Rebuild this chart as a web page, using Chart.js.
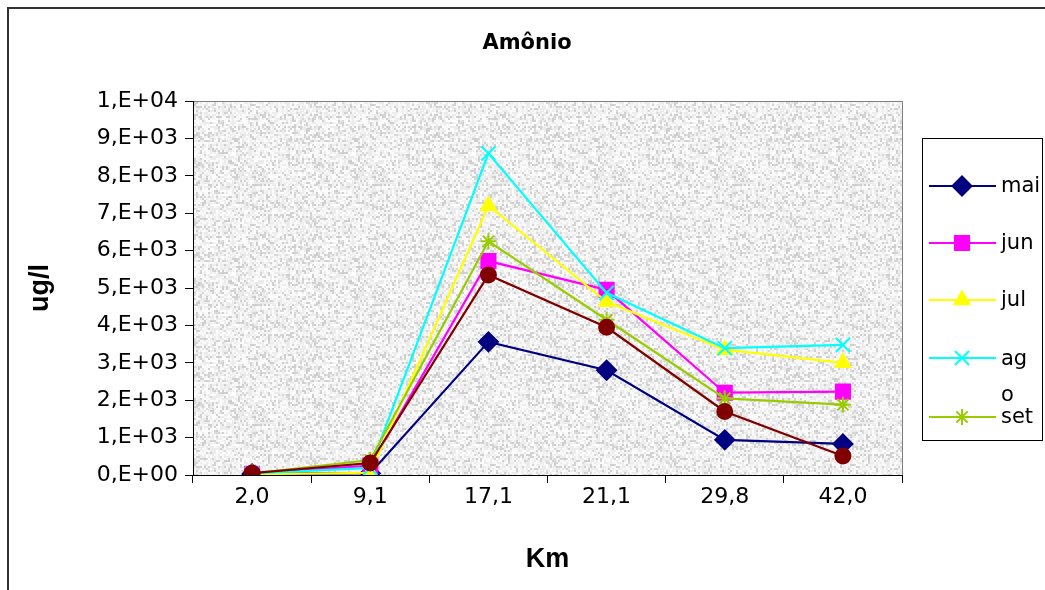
<!DOCTYPE html>
<html>
<head>
<meta charset="utf-8">
<script src="https://cdn.jsdelivr.net/npm/chart.js@4.4.1/dist/chart.umd.min.js"></script>
<style>
    html, body { margin: 0; padding: 0; background: #fff; }
    #wrap { width: 1045px; height: 590px; position: relative; }
</style>
</head>
<body>
<div id="wrap"><canvas id="chart" width="1045" height="590"></canvas></div>
<script>
// distance (km) along the river
const categories = ['2,0', '9,1', '17,1', '21,1', '29,8', '42,0'];
// amonio, ug/l, per month
const valuesMai = [30, 50, 3560, 2800, 940, 830];
const valuesJun = [30, 250, 5720, 4950, 2200, 2230];
const valuesJul = [20, 60, 7200, 4630, 3350, 3000];
const valuesAgo = [40, 190, 8600, 4870, 3390, 3480];
const valuesSet = [40, 400, 6250, 4150, 2050, 1880];
const valuesOut = [50, 320, 5350, 3950, 1700, 510];   // 6th series, cut off from the legend
const legendLabels = ['mai', 'jun', 'jul', ['ag', 'o'], 'set'];
const yTicks = [0, 1000, 2000, 3000, 4000, 5000, 6000, 7000, 8000, 9000, 10000];

const FONT = "'DejaVu Sans', sans-serif";
const BOLD_FONT = "'Liberation Sans', Arial, sans-serif";

function sciLabel(v){
    if(v === 0) return '0,E+00';
    let exp = Math.floor(Math.log10(v));
    let mant = Math.round(v / Math.pow(10, exp));
    return mant + ',E+' + String(exp).padStart(2, '0');
}

function makeSeries(label, data, color, style, radius, order){
    return {
        label: label,
        data: data,
        borderColor: color,
        backgroundColor: color,
        pointBackgroundColor: color,
        pointBorderColor: color,
        pointStyle: style,
        pointRadius: radius,
        pointBorderWidth: 2,
        borderWidth: 2.2,
        tension: 0,
        order: order
    };
}

// speckled grey fill of the plot area (excel texture)
function makeTexture(){
    let c = document.createElement('canvas');
    c.width = 120; c.height = 120;
    let g = c.getContext('2d');
    let seed = 12345;
    for(let y = 0; y < 120; y += 2){
        for(let x = 0; x < 120; x += 2){
            seed = (seed * 1103515245 + 12345) & 0x7fffffff;
            let r = (seed >> 8) % 100;
            let v = r < 22 ? 205 + (r % 15) : (r < 55 ? 236 : 244 + (r % 12));
            g.fillStyle = `rgb(${v},${v},${v})`;
            g.fillRect(x, y, 2, 2);
        }
    }
    return c;
}

const backdropPlugin = {
    id: 'backdrop',
    beforeDraw(chart){
        let ctx = chart.ctx, a = chart.chartArea;
        ctx.save();
        // outer frame
        ctx.strokeStyle = '#333';
        ctx.lineWidth = 2;
        ctx.strokeRect(8, 8, 1100, 700);
        ctx.fillStyle = ctx.createPattern(makeTexture(), 'repeat');
        ctx.fillRect(a.left, a.top, a.right - a.left, a.bottom - a.top);
        ctx.strokeStyle = '#808080';
        ctx.lineWidth = 1;
        ctx.beginPath();
        ctx.moveTo(a.left, a.top + 0.5);
        ctx.lineTo(a.right + 0.5, a.top + 0.5);
        ctx.lineTo(a.right + 0.5, a.bottom);
        ctx.stroke();
        // title, centred on the whole frame
        ctx.fillStyle = '#000';
        ctx.font = 'bold 21px ' + FONT;
        ctx.textAlign = 'center';
        ctx.textBaseline = 'middle';
        ctx.fillText('Amônio', 527, 44);
        ctx.restore();
    }
};

const legendPlugin = {
    id: 'boxLegend',
    afterDraw(chart){
        let ctx = chart.ctx;
        let rows = [186, 243, 300, 358, 417];
        ctx.save();
        ctx.strokeStyle = '#000';
        ctx.lineWidth = 1;
        ctx.strokeRect(922.5, 138.5, 120, 302);
        ctx.font = '21px ' + FONT;
        ctx.textBaseline = 'middle';
        ctx.textAlign = 'left';
        legendLabels.forEach((lbl, i) => {
            let ds = chart.data.datasets[i];
            let y = rows[i];
            ctx.strokeStyle = ds.borderColor;
            ctx.fillStyle = ds.borderColor;
            ctx.lineWidth = 2;
            ctx.beginPath();
            ctx.moveTo(929, y);
            ctx.lineTo(996, y);
            ctx.stroke();
            Chart.helpers.drawPoint(ctx, {
                pointStyle: ds.pointStyle, radius: ds.pointRadius, rotation: 0, borderWidth: 2
            }, 962, y);
            ctx.fillStyle = '#000';
            if(Array.isArray(lbl)){
                ctx.fillText(lbl[0], 1001, y + 2);
                ctx.fillText(lbl[1], 1001, y + 38);
            }else{
                ctx.fillText(lbl, 1001, y + 1);
            }
        });
        ctx.restore();
    }
};

new Chart(document.getElementById('chart'), {
    type: 'line',
    data: {
        labels: categories,
        datasets: [
            makeSeries('mai', valuesMai, '#000080', 'rectRot', 9.5, 5),
            makeSeries('jun', valuesJun, '#FF00FF', 'rect', 10, 4),
            makeSeries('jul', valuesJul, '#FFFF00', 'triangle', 8.5, 3),
            makeSeries('ago', valuesAgo, '#00FFFF', 'crossRot', 10, 2),
            makeSeries('set', valuesSet, '#99CC00', 'star', 8, 1),
            makeSeries('out', valuesOut, '#800000', 'circle', 7.5, 0)
        ]
    },
    options: {
        responsive: false,
        animation: false,
        devicePixelRatio: 1,
        layout: { padding: { left: 0, right: 143, top: 101, bottom: 0 } },
        plugins: {
            legend: { display: false },
            tooltip: { enabled: false },
            title: { display: false }
        },
        scales: {
            x: {
                type: 'category',
                offset: true,
                grid: { offset: true, drawOnChartArea: false, tickLength: 8, color: '#000', lineWidth: 1 },
                border: { color: '#000', width: 1 },
                ticks: { color: '#000', font: { family: FONT, size: 22 }, padding: 1, maxRotation: 0 },
                title: {
                    display: true, text: 'Km', color: '#000',
                    font: { family: BOLD_FONT, size: 27, weight: 'bold' },
                    padding: { top: 0, bottom: 14 }
                },
                afterFit(s){ s.height = 115; }
            },
            y: {
                min: 0,
                max: 10000,
                afterBuildTicks(s){ s.ticks = yTicks.map(v => ({ value: v })); },
                grid: { drawOnChartArea: false, tickLength: 8, color: '#000', lineWidth: 1 },
                border: { color: '#000', width: 1 },
                ticks: {
                    color: '#000', font: { family: FONT, size: 22 }, padding: 7,
                    callback: (v) => sciLabel(v)
                },
                title: {
                    display: true, text: 'ug/l', color: '#000',
                    font: { family: BOLD_FONT, size: 27, weight: 'bold' },
                    padding: { top: 24, bottom: 0 }
                },
                afterFit(s){ s.width = 193; }
            }
        }
    },
    plugins: [backdropPlugin, legendPlugin]
});
</script>
</body>
</html>
